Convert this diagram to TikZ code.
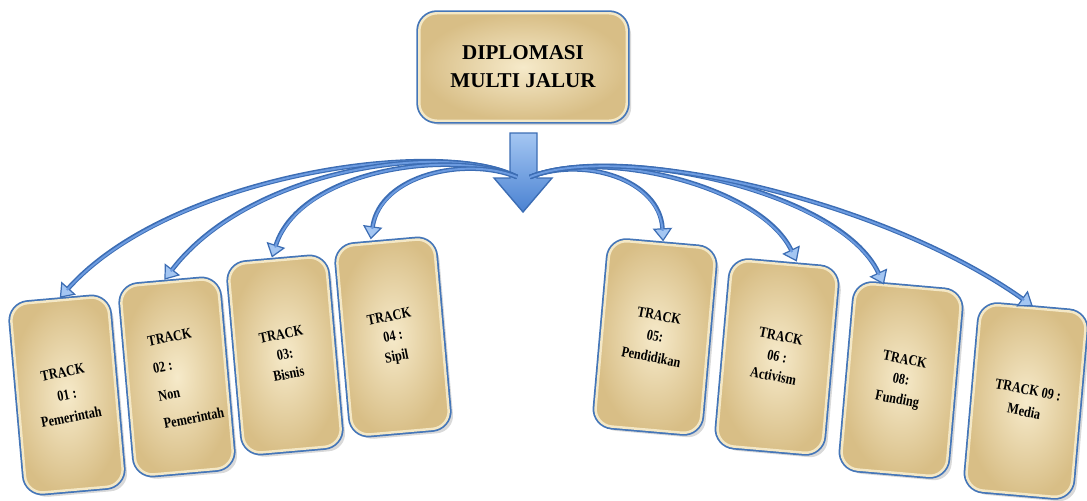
\documentclass[tikz,border=0pt]{standalone}
\usepackage{fontspec}
\setmainfont{Liberation Serif}
\newfontfamily\cardfont[FakeStretch=0.82]{Liberation Serif}
\usetikzlibrary{arrows.meta,shadows}
\definecolor{bluedark}{HTML}{3C6DB4}
\definecolor{bluemid}{HTML}{6C9BE0}
\definecolor{bluelight}{HTML}{A4C6F2}
\definecolor{arrowbot}{HTML}{4A82D2}
\definecolor{tanin}{HTML}{F6EACA}
\definecolor{tanout}{HTML}{D8BE86}
\definecolor{rim}{HTML}{F4E8C6}
\definecolor{frame}{HTML}{4576B8}
\newcommand\ctxt[4]{\rotatebox{#1}{\cardfont\bfseries\fontsize{8.5}{#3}\selectfont\begin{tabular}{@{}#2@{}}#4\end{tabular}}}
\begin{document}
\begin{tikzpicture}[x=0.02cm,y=-0.02cm,
  box/.style={rectangle, rounded corners=10pt,
    drop shadow={shadow xshift=2.5pt,shadow yshift=-2.5pt,opacity=0.3},
    preaction={draw=frame, line width=3.4pt},
    draw=rim, line width=1.4pt,
    inner color=tanin, outer color=tanout},
  cardL/.style={box, rotate=5, minimum width=1.96cm, minimum height=3.8cm, inner sep=0pt},
  cardR/.style={box, rotate=-5, minimum width=2.12cm, minimum height=3.72cm, inner sep=0pt},
  ribbon/.style={draw=bluedark, line width=2.6pt, shorten >=1pt,
    -{Triangle[width=11pt,length=7.5pt,fill=bluelight,line width=0.7pt]},
    postaction={draw=bluemid, line width=1.1pt, -, shorten >=7pt}},
  downarrow/.style={draw=bluedark, line width=0.8pt, top color=bluelight, bottom color=arrowbot}
]
\useasboundingbox (0,0) rectangle (1087,500);

% top box
\node[box, minimum width=4.15cm, minimum height=2.15cm, rounded corners=10pt,
  font=\bfseries\fontsize{12}{16}\selectfont, align=center] (top) at (523,67)
  {DIPLOMASI\\MULTI JALUR};

% central down arrow
\draw[downarrow] (510,133) -- (537,133) -- (537,178) -- (552,178) -- (523,212)
  -- (494,178) -- (510,178) -- cycle;

% cards
\node[cardL] (c1) at (67,395) {\ctxt{6}{c}{13pt}{TRACK\\01 :\\Pemerintah}};
\node[cardL] (c2) at (177,377) {\hspace*{10pt}\ctxt{6}{l}{16pt}{TRACK\\02 :\\Non\\Pemerintah}};
\node[cardL] (c3) at (285,355) {\ctxt{6}{c}{11.5pt}{TRACK\\03:\\Bisnis}};
\node[cardL] (c4) at (393,337) {\ctxt{6}{c}{11.5pt}{TRACK\\04 :\\Sipil}};
\node[cardR] (c5) at (655,337) {\ctxt{-6}{c}{12pt}{TRACK\\05:\\Pendidikan}};
\node[cardR] (c6) at (777,357) {\ctxt{-6}{c}{11.5pt}{TRACK\\06 :\\Activism}};
\node[cardR] (c7) at (901,380) {\ctxt{-6}{c}{11.5pt}{TRACK\\08:\\Funding}};
\node[cardR] (c8) at (1026,401) {\ctxt{-6}{c}{12.5pt}{TRACK 09 :\\Media}};

% hubs
\coordinate (hubL) at (517,177);
\coordinate (hubR) at (530,177);

% curved arrows
\draw[ribbon] (hubL) .. controls (440,136) and (170,175) .. (c1.north);
\draw[ribbon] (hubL) .. controls (445,141) and (250,168) .. ([xshift=-3pt]c2.north);
\draw[ribbon] (hubL) .. controls (450,148) and (300,170) .. ([xshift=-3pt]c3.north);
\draw[ribbon] (hubL) .. controls (465,156) and (380,175) .. ([xshift=-8pt]c4.north);
\draw[ribbon] (hubR) .. controls (585,156) and (660,180) .. (c5.north);
\draw[ribbon] (hubR) .. controls (600,148) and (760,185) .. ([xshift=7pt]c6.north);
\draw[ribbon] (hubR) .. controls (615,143) and (840,190) .. ([xshift=-14pt]c7.north);
\draw[ribbon] (hubR) .. controls (620,141) and (880,198) .. (c8.north);
\end{tikzpicture}
\end{document}
